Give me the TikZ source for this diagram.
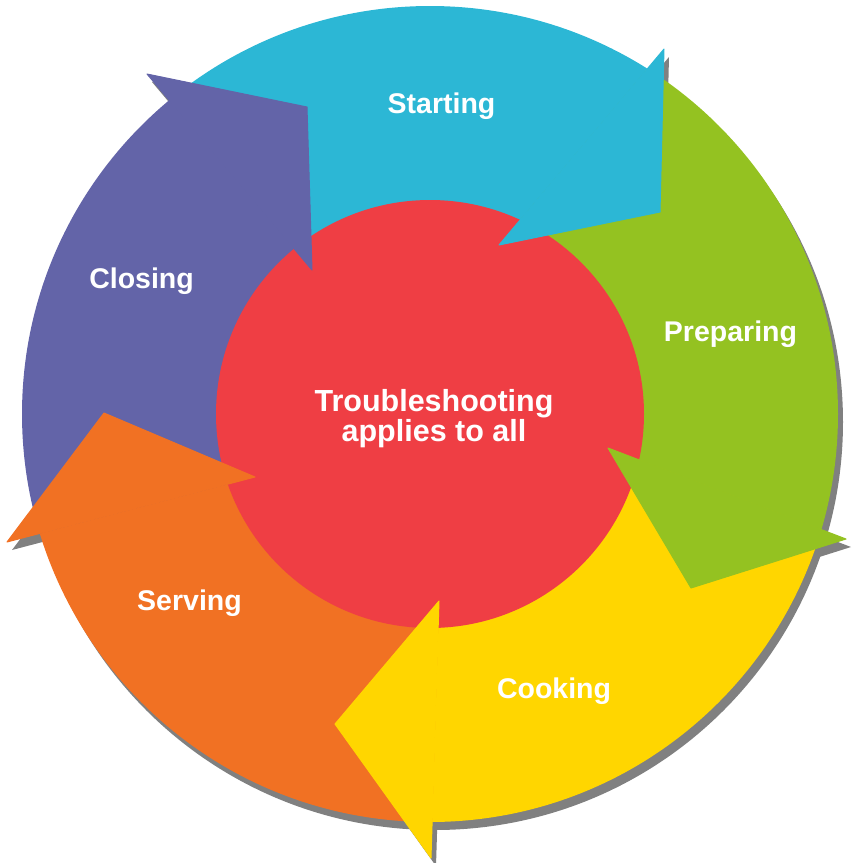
\documentclass[tikz,border=0pt]{standalone}
\usepackage{fontspec}
\setmainfont{Liberation Sans}
\usetikzlibrary{calc}

\definecolor{startc}{HTML}{2CB7D5}
\definecolor{prepc}{HTML}{94C221}
\definecolor{cookc}{HTML}{FFD600}
\definecolor{servc}{HTML}{F17123}
\definecolor{closc}{HTML}{6364A8}
\definecolor{hubc}{HTML}{EF3E44}
\definecolor{shadowc}{HTML}{808080}

\begin{document}
\begin{tikzpicture}[x=1pt,y=-1pt,
  arrowtext/.style={text=white, inner sep=0pt, anchor=base,
    font=\fontsize{28.5}{30}\selectfont\bfseries},
  hubtext/.style={text=white, inner sep=0pt, align=center,
    font=\fontsize{30.5}{30}\selectfont\bfseries},
  headtri/.style={line width=1pt, line join=round}]
\useasboundingbox (0,0) rectangle (852,863);

% ring centre (outer radius 408, inner radius 214)
\coordinate (C) at (430,414);

% arrow heads: outer barb (O), tip (T), inner barb (I)
\coordinate (sO) at (664,49);  \coordinate (sT) at (660,212); \coordinate (sI) at (499,245);
\coordinate (pO) at (846,539); \coordinate (pT) at (691,588); \coordinate (pI) at (608,448);
\coordinate (kO) at (431,858); \coordinate (kT) at (335,724); \coordinate (kI) at (439,601);
\coordinate (vO) at (7,542);   \coordinate (vT) at (104,413); \coordinate (vI) at (255,477);
\coordinate (cO) at (147,74);  \coordinate (cT) at (307,107); \coordinate (cI) at (312,270);

% drop shadow of the whole ring
\begin{scope}[transform canvas={shift={(5,8)}}]
  \fill[shadowc] (C) circle[radius=408pt];
  \fill[shadowc] (sO) -- (sT) -- (sI) -- cycle;
  \fill[shadowc] (pO) -- (pT) -- (pI) -- cycle;
  \fill[shadowc] (kO) -- (kT) -- (kI) -- cycle;
  \fill[shadowc] (vO) -- (vT) -- (vI) -- cycle;
  \fill[shadowc] (cO) -- (cT) -- (cI) -- cycle;
\end{scope}

% arrow bodies: ring pieces between consecutive head bases
\begin{scope}
  \clip (C) circle[radius=408pt];
  \fill[startc] (cI) -- ($(cI)!4!(cO)$) -- ($(sI)!4!(sO)$) -- (sI) -- cycle;
  \fill[prepc]  (sI) -- ($(sI)!4!(sO)$) -- ($(pI)!4!(pO)$) -- (pI) -- cycle;
  \fill[cookc]  (pI) -- ($(pI)!4!(pO)$) -- ($(kI)!4!(kO)$) -- (kI) -- cycle;
  \fill[servc]  (kI) -- ($(kI)!4!(kO)$) -- ($(vI)!4!(vO)$) -- (vI) -- cycle;
  \fill[closc]  (vI) -- ($(vI)!4!(vO)$) -- ($(cI)!4!(cO)$) -- (cI) -- cycle;
\end{scope}

% central disc
\fill[hubc] (C) circle[radius=214pt];

% arrow heads on top
\filldraw[headtri, startc] (sO) -- (sT) -- (sI) -- cycle;
\filldraw[headtri, prepc]  (pO) -- (pT) -- (pI) -- cycle;
\filldraw[headtri, cookc]  (kO) -- (kT) -- (kI) -- cycle;
\filldraw[headtri, servc]  (vO) -- (vT) -- (vI) -- cycle;
\filldraw[headtri, closc]  (cO) -- (cT) -- (cI) -- cycle;

% labels
\node[arrowtext] (starting)  at (441.5,113) {Starting};
\node[arrowtext] (preparing) at (730.5,341) {Preparing};
\node[arrowtext] (cooking)   at (554,698)   {Cooking};
\node[arrowtext] (serving)   at (189.5,610) {Serving};
\node[arrowtext] (closing)   at (141.5,288) {Closing};
\node[hubtext]   (hub)       at (434,419)   {Troubleshooting\\applies to all};
\end{tikzpicture}
\end{document}
